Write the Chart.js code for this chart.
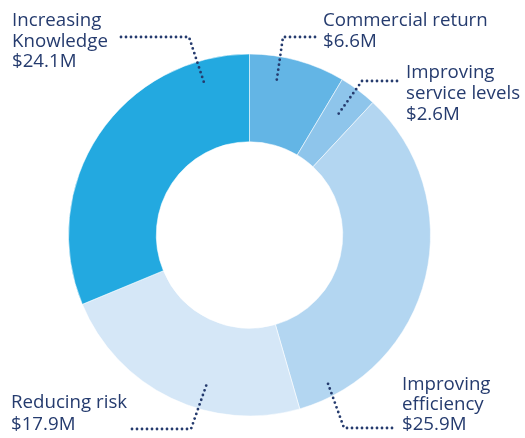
<!DOCTYPE html>
<html>
<head>
<meta charset="utf-8">
<script src="https://cdn.jsdelivr.net/npm/chart.js@4.4.1/dist/chart.umd.min.js"></script>
<style>
  html, body { margin: 0; padding: 0; background: #fff; }
  #wrap { width: 525px; height: 438px; }
</style>
</head>
<body>
<div id="wrap"><canvas id="myChart" width="525" height="438"></canvas></div>
<script>
// chart data
const categories = ['Commercial return', 'Improving service levels', 'Improving efficiency', 'Reducing risk', 'Increasing Knowledge'];
const labelLines = [
    ['Commercial return'],
    ['Improving', 'service levels'],
    ['Improving', 'efficiency'],
    ['Reducing risk'],
    ['Increasing', 'Knowledge']
];
const values = [6.6, 2.6, 25.9, 17.9, 24.1];
const colors = ['#63b5e5', '#8ec5eb', '#b3d6f1', '#d5e7f7', '#23a9e0'];

const navy = '#253b6e';

// where each label sits and where its dotted leader goes
// anchor: angle in degrees (clockwise from top) and radius relative to outer radius
const labelLayout = [
    { x: 323, y: 26, lineGap: 21, elbow: [283, 37], start: [315, 37], anchor: [10, 0.855] },
    { x: 406, y: 78, lineGap: 21, elbow: [362, 81], start: [397, 81], anchor: [36.3, 0.83] },
    { x: 402, y: 390, lineGap: 20, elbow: [344, 428], start: [392, 428], anchor: [152, 0.91] },
    { x: 11, y: 408, lineGap: 22, elbow: [191, 429], start: [132, 429], anchor: [196, 0.855] },
    { x: 12, y: 26, lineGap: 20.5, elbow: [189, 37], start: [121, 37], anchor: [343.4, 0.87] }
];

const labelPlugin = {
    id: 'calloutLabels',
    afterDraw(chart) {
        const ctx = chart.ctx;
        const arc = chart.getDatasetMeta(0).data[0];
        const cx = arc.x, cy = arc.y, r = arc.outerRadius;
        ctx.save();
        ctx.fillStyle = navy;
        ctx.strokeStyle = navy;
        ctx.font = '18.7px "Open Sans", sans-serif';
        ctx.textBaseline = 'alphabetic';
        categories.forEach(function(cat, i) {
            const lay = labelLayout[i];
            const lines = labelLines[i].concat(['$' + values[i].toFixed(1) + 'M']);
            lines.forEach(function(t, j) {
                ctx.fillText(t, lay.x, lay.y + j * lay.lineGap);
            });
            const a = (lay.anchor[0] - 90) * Math.PI / 180;
            const ax = cx + Math.cos(a) * r * lay.anchor[1];
            const ay = cy + Math.sin(a) * r * lay.anchor[1];
            ctx.beginPath();
            ctx.setLineDash([0, 5]);
            ctx.lineCap = 'round';
            ctx.lineWidth = 2.8;
            ctx.moveTo(lay.start[0], lay.start[1]);
            ctx.lineTo(lay.elbow[0], lay.elbow[1]);
            ctx.lineTo(ax, ay);
            ctx.stroke();
        });
        ctx.restore();
    }
};

var ctx = document.getElementById('myChart').getContext('2d');
var myChart = new Chart(ctx, {
    type: 'doughnut',
    data: {
        labels: categories,
        datasets: [{
            data: values,
            backgroundColor: colors,
            borderColor: 'rgba(255,255,255,0.55)',
            borderWidth: 1
        }]
    },
    options: {
        responsive: false,
        animation: false,
        cutout: '51.5%',
        layout: { padding: { left: 68, right: 94, top: 53, bottom: 21 } },
        plugins: {
            legend: { display: false },
            tooltip: { enabled: false }
        }
    },
    plugins: [labelPlugin]
});
</script>
</body>
</html>
